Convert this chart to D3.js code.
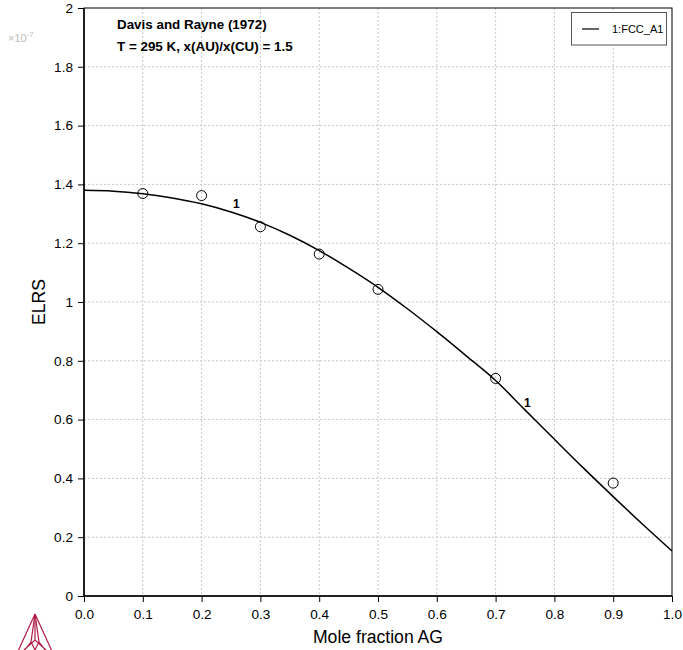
<!DOCTYPE html>
<html><head><meta charset="utf-8">
<script src="https://cdn.jsdelivr.net/npm/d3@7"></script>
<style>body{margin:0;background:#fff;} text{font-family:"Liberation Sans",Arial,sans-serif;}</style>
</head><body>
<svg id="c" width="683" height="650"></svg>
<script>
const curveX = [0,0.05,0.1,0.15,0.2,0.25,0.3,0.35,0.4,0.45,0.5,0.55,0.6,0.65,0.7,0.75,0.8,0.85,0.9,0.95,1.0];
const curveY = [1.380,1.377,1.368,1.354,1.334,1.306,1.271,1.227,1.175,1.115,1.050,0.977,0.899,0.817,0.733,0.633,0.533,0.434,0.338,0.244,0.153];
const expX = [0.1,0.2,0.3,0.4,0.5,0.7,0.9];
const expY = [1.369,1.362,1.256,1.163,1.043,0.740,0.384];
const xTicks = [0,0.1,0.2,0.3,0.4,0.5,0.6,0.7,0.8,0.9,1.0];
const yTicks = [0,0.2,0.4,0.6,0.8,1,1.2,1.4,1.6,1.8,2];
const labelPos = [0.26,0.755];
const titleLines = ["Davis and Rayne (1972)","T = 295 K, x(AU)/x(CU) = 1.5"];
const legendLabel = "1:FCC_A1";

const svg = d3.select("#c");
const L=84,R=672,T=8,B=596;
const x = d3.scaleLinear().domain([0,1]).range([L,R]);
const y = d3.scaleLinear().domain([0,2]).range([B,T]);

// grid
const g = svg.append("g");
g.selectAll(".gx").data(xTicks.slice(1,-1)).enter().append("line")
  .attr("x1",d=>x(d)).attr("x2",d=>x(d)).attr("y1",T).attr("y2",B)
  .attr("stroke","#c8c8c8").attr("stroke-dasharray","2,2").attr("stroke-width",1);
g.selectAll(".gy").data(yTicks.slice(1,-1)).enter().append("line")
  .attr("y1",d=>y(d)).attr("y2",d=>y(d)).attr("x1",L).attr("x2",R)
  .attr("stroke","#c8c8c8").attr("stroke-dasharray","2,2").attr("stroke-width",1);

// axes
const xa = svg.append("g").attr("transform",`translate(0,${B})`)
  .call(d3.axisBottom(x).tickValues(xTicks).tickFormat(d3.format(".1f")).tickSize(6).tickPadding(5));
const ya = svg.append("g").attr("transform",`translate(${L},0)`)
  .call(d3.axisLeft(y).tickValues(yTicks).tickFormat(d=>d3.format("~g")(d)).tickSize(6).tickPadding(5));
[xa,ya].forEach(a=>{a.select(".domain").remove();
  a.selectAll("text").attr("font-size",13.6).attr("fill","#000").attr("font-family","Liberation Sans, Arial, sans-serif");
  a.selectAll("line").attr("stroke","#000");});
xa.selectAll("text").attr("dy","0.85em");

// frame
svg.append("rect").attr("x",L).attr("y",T).attr("width",R-L).attr("height",B-T)
  .attr("fill","none").attr("stroke","#000").attr("stroke-width",1);
svg.append("line").attr("x1",L).attr("x2",L).attr("y1",T).attr("y2",B).attr("stroke","#000").attr("stroke-width",1.5);
svg.append("line").attr("x1",L).attr("x2",R).attr("y1",B).attr("y2",B).attr("stroke","#000").attr("stroke-width",1.5);

// curve
const pts = curveX.map((d,i)=>[d,curveY[i]]);
svg.append("path").datum(pts)
  .attr("d",d3.line().x(d=>x(d[0])).y(d=>y(d[1])).curve(d3.curveMonotoneX))
  .attr("fill","none").attr("stroke","#000").attr("stroke-width",1.5);

// labels "1"
const interp = v => { const i = d3.bisectLeft(curveX,v); const t=(v-curveX[i-1])/(curveX[i]-curveX[i-1]); return curveY[i-1]+t*(curveY[i]-curveY[i-1]); };
svg.selectAll(".lab").data(labelPos).enter().append("text")
  .attr("x",d=>x(d)-4).attr("y",d=>y(interp(d))-6)
  .attr("font-size",12).attr("font-weight","bold").text("1");

// experimental points
svg.selectAll(".pt").data(expX).enter().append("circle")
  .attr("cx",d=>x(d)).attr("cy",(d,i)=>y(expY[i])).attr("r",5)
  .attr("fill","none").attr("stroke","#000").attr("stroke-width",1);

// title
svg.selectAll(".tt").data(titleLines).enter().append("text")
  .attr("x",117).attr("y",(d,i)=>29+i*22).attr("font-size",13.4).attr("font-weight","bold").text(d=>d);

// legend
svg.append("rect").attr("x",571.5).attr("y",12.5).attr("width",95).attr("height",32.5)
  .attr("fill","#fff").attr("stroke","#555").attr("stroke-width",1);
svg.append("line").attr("x1",582).attr("x2",599).attr("y1",29).attr("y2",29).attr("stroke","#000").attr("stroke-width",1.2);
svg.append("text").attr("x",612).attr("y",33).attr("font-size",11).text(legendLabel);

// axis titles
svg.append("text").attr("x",x(0.5)).attr("y",643).attr("text-anchor","middle").attr("font-size",17.6).text("Mole fraction AG");
svg.append("text").attr("transform",`translate(45,${y(1)}) rotate(-90)`).attr("text-anchor","middle").attr("font-size",17.6).text("ELRS");
const mult = svg.append("text").attr("x",8).attr("y",42).attr("font-size",11).attr("fill","#bcbcbc");
mult.append("tspan").text("×10");
mult.append("tspan").attr("dy",-5).attr("font-size",8).text("-7");

// logo
const lg = svg.append("g").attr("fill","none").attr("stroke","#b01c45").attr("stroke-width",1.2);
lg.append("path").attr("d","M35,614 L14,660 M35,614 L56,660");
lg.append("path").attr("d","M35,614 L31,642 L35,650 L39,642 Z");
lg.append("path").attr("d","M35,614 L35,640 M24,650 L35,640 L46,650 M20,656 L31,642 M50,656 L39,642");
</script>
</body></html>
